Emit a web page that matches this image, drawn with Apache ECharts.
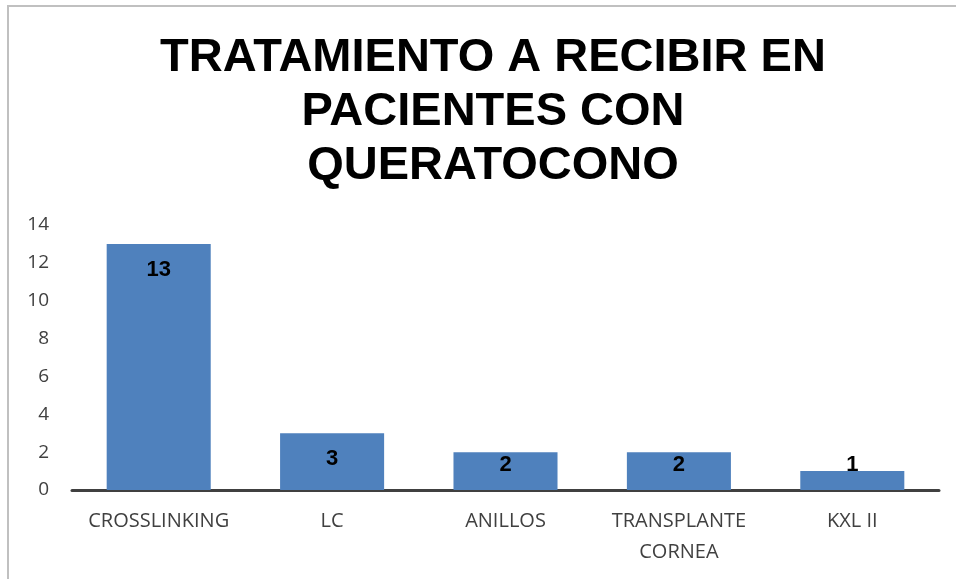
<!DOCTYPE html>
<html>
<head>
<meta charset="utf-8">
<script src="https://cdn.jsdelivr.net/npm/echarts@6/dist/echarts.min.js"></script>
<style>
  html, body { margin: 0; padding: 0; background: #fff; }
  #chart { width: 956px; height: 579px; }
  .frame { position: absolute; left: 7px; top: 5px; right: -10px; bottom: -10px; border: 2px solid #c0c0c0; }
</style>
</head>
<body>
<div class="frame"></div>
<div id="chart" style="position:absolute;left:0;top:0;"></div>
<script>
const titleText = 'TRATAMIENTO A RECIBIR EN\nPACIENTES CON\nQUERATOCONO';
const categories = ['CROSSLINKING', 'LC', 'ANILLOS', 'TRANSPLANTE\nCORNEA', 'KXL II'];
const values = [13, 3, 2, 2, 1];
const yTicks = { min: 0, max: 14, interval: 2 };

const chart = echarts.init(document.getElementById('chart'));

// small bars: Excel pushes the label up so it still fits
function labelFor(v) {
  if (v >= 3) return { position: 'insideTop', distance: 15 };
  if (v === 2) return { position: 'insideTop', distance: 2 };
  return { position: 'top', distance: -5 };
}

const option = {
  animation: false,
  title: {
    text: titleText,
    left: 488,
    textAlign: 'center',
    top: 26,
    textStyle: {
      fontFamily: 'Liberation Sans, Arial, sans-serif',
      fontWeight: 'bold',
      fontSize: 47,
      lineHeight: 54,
      color: '#000'
    }
  },
  grid: { left: 72, right: 17, top: 225, bottom: 89 },
  xAxis: {
    type: 'category',
    data: categories,
    axisLine: { lineStyle: { color: '#404040', width: 3 } },
    axisTick: { show: false },
    axisLabel: {
      color: '#404040',
      fontFamily: 'Open Sans, sans-serif',
      fontSize: 20,
      lineHeight: 31,
      margin: 16,
      interval: 0
    }
  },
  yAxis: {
    type: 'value',
    min: yTicks.min,
    max: yTicks.max,
    interval: yTicks.interval,
    axisLine: { show: false },
    axisTick: { show: false },
    splitLine: { show: false },
    axisLabel: {
      color: '#404040',
      fontFamily: 'Open Sans, sans-serif',
      fontSize: 19,
      margin: 23
    }
  },
  series: [{
    type: 'bar',
    barWidth: '60%',
    itemStyle: { color: '#4f81bd' },
    data: values.map(v => ({ value: v, label: labelFor(v) })),
    label: {
      show: true,
      color: '#000',
      fontFamily: 'Liberation Sans, Arial, sans-serif',
      fontWeight: 'bold',
      fontSize: 22
    }
  }]
};

chart.setOption(option);
</script>
</body>
</html>
